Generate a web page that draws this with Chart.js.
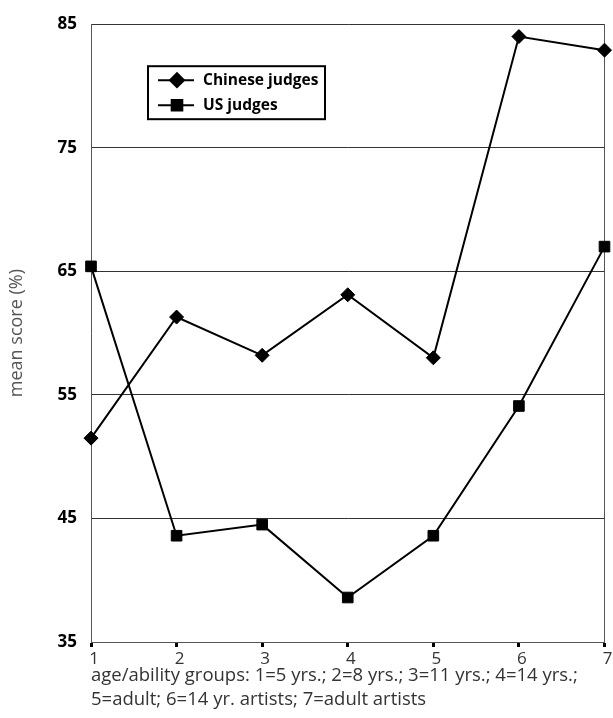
<!DOCTYPE html>
<html>
<head>
<meta charset="utf-8">
<script src="https://cdn.jsdelivr.net/npm/chart.js@4.4.1/dist/chart.umd.min.js"></script>
<style>
  html, body { margin: 0; padding: 0; background: #fff; }
  #wrap { width: 613px; height: 718px; position: relative; }
</style>
</head>
<body>
<div id="wrap"><canvas id="chart"></canvas></div>
<script>
const groups = ["1", "2", "3", "4", "5", "6", "7"];
const chineseJudges = [51.5, 61.3, 58.2, 63.1, 58.0, 84.0, 82.9];
const usJudges = [65.4, 43.6, 44.5, 38.6, 43.6, 54.1, 67.0];
const yTicks = [35, 45, 55, 65, 75, 85];
const xTitle = ["age/ability groups: 1=5 yrs.; 2=8 yrs.; 3=11 yrs.; 4=14 yrs.;",
                "5=adult; 6=14 yr. artists; 7=adult artists"];

const FONT = "'Open Sans', 'DejaVu Sans', sans-serif";

// legend drawn as a box inside the plot, like the original
const boxLegend = {
  id: "boxLegend",
  afterDraw(chart) {
    const ctx = chart.ctx;
    const a = chart.chartArea;
    const x0 = a.left + 57, y0 = a.top + 42, w = 177, h = 53;
    ctx.save();
    ctx.fillStyle = "#fff";
    ctx.fillRect(x0, y0, w, h);
    ctx.strokeStyle = "#000";
    ctx.lineWidth = 2;
    ctx.strokeRect(x0, y0, w, h);
    chart.data.datasets.forEach((ds, i) => {
      const y = y0 + 14 + i * 25;
      ctx.beginPath();
      ctx.moveTo(x0 + 10, y);
      ctx.lineTo(x0 + 46, y);
      ctx.lineWidth = 2;
      ctx.strokeStyle = "#000";
      ctx.stroke();
      Chart.helpers.drawPoint(ctx, {
        pointStyle: ds.pointStyle, radius: ds.pointRadius, borderWidth: 1
      }, x0 + 29, y);
      ctx.fillStyle = "#000";
      ctx.fill();
      ctx.font = "bold 15.5px " + FONT;
      ctx.textBaseline = "middle";
      ctx.textAlign = "left";
      ctx.fillText(ds.label, x0 + 55, y);
    });
    ctx.restore();
  }
};

new Chart(document.getElementById("chart"), {
  type: "line",
  data: {
    labels: groups,
    datasets: [
      {
        label: "Chinese judges",
        data: chineseJudges,
        borderColor: "#000",
        backgroundColor: "#000",
        borderWidth: 2,
        pointStyle: "rectRot",
        pointRadius: 7,
        pointBorderWidth: 1,
        tension: 0
      },
      {
        label: "US judges",
        data: usJudges,
        borderColor: "#000",
        backgroundColor: "#000",
        borderWidth: 2,
        pointStyle: "rect",
        pointRadius: 7.5,
        pointBorderWidth: 1,
        tension: 0
      }
    ]
  },
  options: {
    responsive: true,
    maintainAspectRatio: false,
    animation: false,
    layout: { padding: { top: 22, right: 8, left: 0, bottom: 0 } },
    plugins: {
      legend: { display: false },
      tooltip: { enabled: false }
    },
    scales: {
      x: {
        offset: false,
        afterFit(scale) { scale.height = 76; },
        grid: {
          color: c => (c.index === groups.length - 1 ? "#555" : "rgba(0,0,0,0)"),
          lineWidth: 1,
          drawTicks: true,
          tickLength: 5,
          tickColor: "#000",
          tickWidth: 3
        },
        border: { color: "#555", width: 1 },
        ticks: {
          color: "#333",
          font: { family: FONT, size: 17 },
          padding: 2,
          labelOffset: 3,
          maxRotation: 0
        },
        title: {
          display: true,
          text: xTitle,
          align: "start",
          color: "#333",
          font: { family: FONT, size: 18.5, lineHeight: 1.3 },
          padding: { top: 0, bottom: 6 }
        }
      },
      y: {
        min: 35,
        max: 85,
        afterFit(scale) { scale.width = 91; },
        afterBuildTicks(scale) { scale.ticks = yTicks.map(v => ({ value: v })); },
        grid: {
          color: "#333",
          lineWidth: 1,
          drawTicks: false
        },
        border: { color: "#555", width: 1 },
        ticks: {
          color: "#000",
          font: { family: FONT, size: 17, weight: "bold" },
          padding: 14
        },
        title: {
          display: true,
          text: "mean score (%)",
          color: "#555",
          font: { family: FONT, size: 18 },
          padding: { top: 6, bottom: 0 }
        }
      }
    }
  },
  plugins: [boxLegend]
});
</script>
</body>
</html>
